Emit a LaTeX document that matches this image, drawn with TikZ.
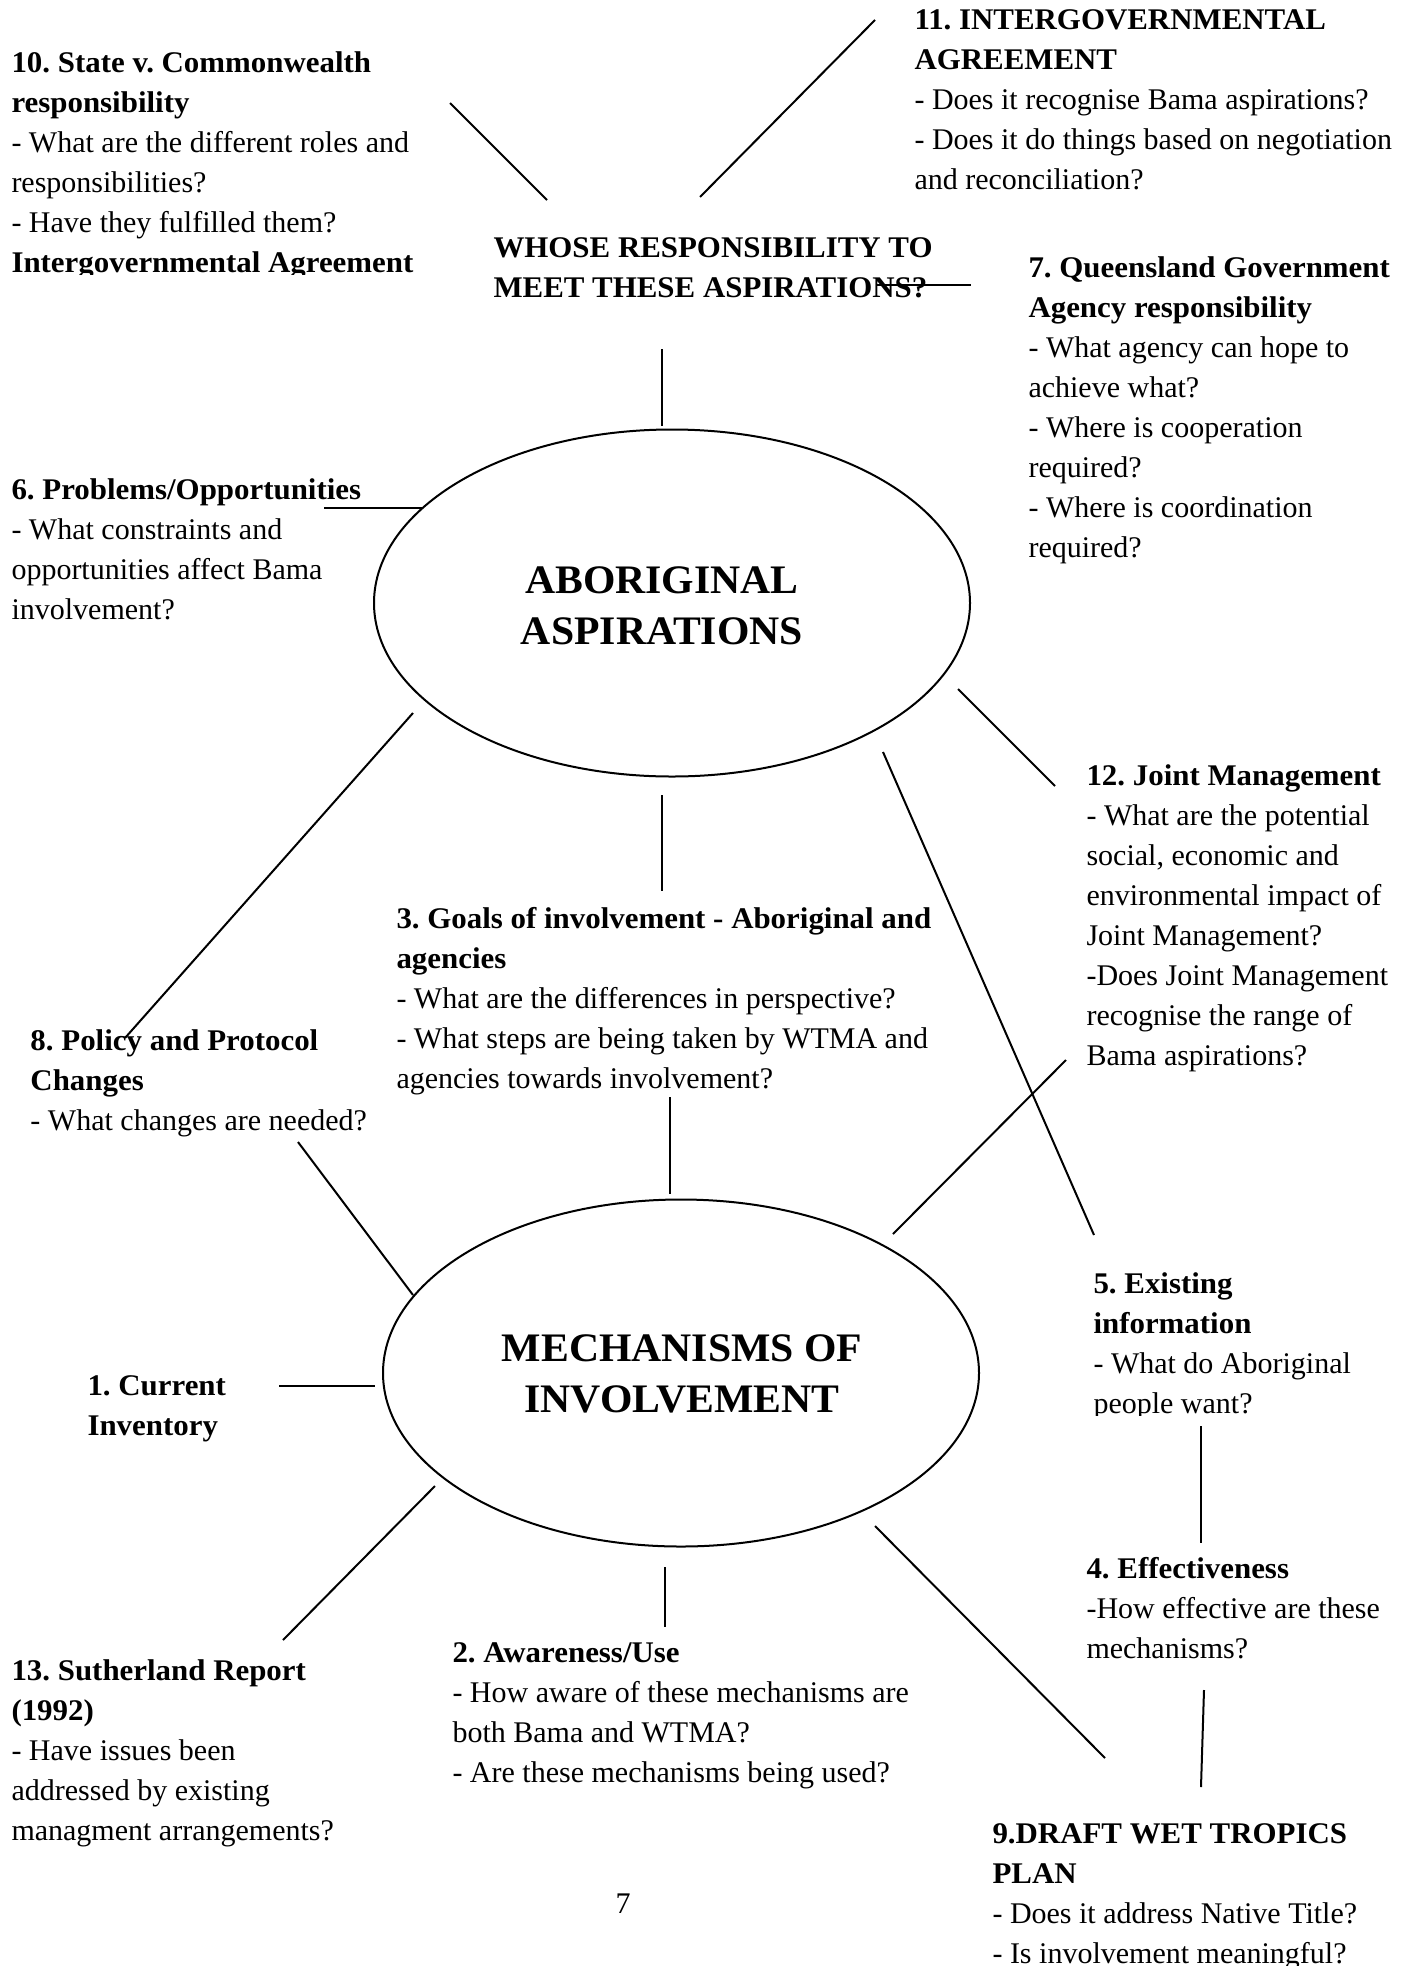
\documentclass[tikz,border=0pt]{standalone}
\usepackage{fontspec}
\setmainfont[BoldFeatures={FakeStretch=1.03}]{Liberation Serif}
\usetikzlibrary{shapes.geometric}
\frenchspacing
\begin{document}
\begin{tikzpicture}[x=0.4pt,y=-0.4pt,
  txt/.style={anchor=north west,inner sep=0pt,align=left,font=\fontsize{12}{16}\selectfont\frenchspacing},
  big/.style={anchor=north,inner sep=0pt,align=center,font=\fontsize{16.2}{20.5}\selectfont\bfseries},
  oval/.style={ellipse,draw,line width=0.8pt,inner sep=0pt,minimum width=238.4pt,minimum height=138.8pt},
  conn/.style={line width=0.8pt}]
\useasboundingbox (0,0) rectangle (1409,1966);
\clip (0,0) rectangle (1409,1966);

% ellipses
\node[oval] (abor) at (672,603) {};
\node[big] (abort) at (662,557) {\strut ABORIGINAL\\ASPIRATIONS};
\node[oval] (mech) at (681,1373) {};
\node[big] (mecht) at (682,1325) {\strut MECHANISMS OF\\INVOLVEMENT};

% text blocks
\begin{scope}
\clip (0,0) rectangle (480,274);
\node[txt] (b10) at (11,44) {\strut\textbf{10. State v. Commonwealth}\\\textbf{responsibility}\\- What are the different roles and\\responsibilities?\\- Have they fulfilled them?\\\textbf{Intergovernmental Agreement}};
\end{scope}
\node[txt] (b11) at (914,1) {\strut\textbf{11. INTERGOVERNMENTAL}\\\textbf{AGREEMENT}\\- Does it recognise Bama aspirations?\\- Does it do things based on negotiation\\and reconciliation?};
\node[txt] (whose) at (493,229) {\strut\textbf{WHOSE RESPONSIBILITY TO}\\\textbf{MEET THESE ASPIRATIONS?}};
\node[txt] (b7) at (1028,249) {\strut\textbf{7. Queensland Government}\\\textbf{Agency responsibility}\\- What agency can hope to\\achieve what?\\- Where is cooperation\\required?\\- Where is coordination\\required?};
\node[txt] (b6) at (11,471) {\strut\textbf{6. Problems/Opportunities}\\- What constraints and\\opportunities affect Bama\\involvement?};
\node[txt] (b12) at (1086,757) {\strut\textbf{12. Joint Management}\\- What are the potential\\social, economic and\\environmental impact of\\Joint Management?\\-Does Joint Management\\recognise the range of\\Bama aspirations?};
\node[txt] (b3) at (396,900) {\strut\textbf{3. Goals of involvement - Aboriginal and}\\\textbf{agencies}\\- What are the differences in perspective?\\- What steps are being taken by WTMA and\\agencies towards involvement?};
\node[txt] (b8) at (30,1022) {\strut\textbf{8. Policy and Protocol}\\\textbf{Changes}\\- What changes are needed?};
\begin{scope}
\clip (1000,1200) rectangle (1409,1415);
\node[txt] (b5) at (1093,1265) {\strut\textbf{5. Existing}\\\textbf{information}\\- What do Aboriginal\\people want?};
\end{scope}
\node[txt] (b1) at (87,1367) {\strut\textbf{1. Current}\\\textbf{Inventory}};
\node[txt] (b4) at (1086,1550) {\strut\textbf{4. Effectiveness}\\-How effective are these\\mechanisms?};
\node[txt] (b2) at (452,1634) {\strut\textbf{2. Awareness/Use}\\- How aware of these mechanisms are\\both Bama and WTMA?\\- Are these mechanisms being used?};
\node[txt] (b13) at (11,1652) {\strut\textbf{13. Sutherland Report}\\\textbf{(1992)}\\- Have issues been\\addressed by existing\\managment arrangements?};
\node[txt] (b9) at (992,1815) {\strut\textbf{9.DRAFT WET TROPICS}\\\textbf{PLAN}\\- Does it address Native Title?\\- Is involvement meaningful?};
\node[anchor=base,inner sep=0pt,font=\fontsize{12}{16}\selectfont] (pg) at (623,1913) {7};

% connector end points
\coordinate (c1a) at (450,103);  \coordinate (c1b) at (547,200);
\coordinate (c2a) at (875,20);   \coordinate (c2b) at (700,197);
\coordinate (c3a) at (877,285);  \coordinate (c3b) at (971,285);
\coordinate (c4a) at (662,349);  \coordinate (c4b) at (662,426);
\coordinate (c5a) at (324,508);  \coordinate (c5b) at (422,508);
\coordinate (c6a) at (413,713);  \coordinate (c6b) at (125,1038);
\coordinate (c7a) at (662,795);  \coordinate (c7b) at (662,891);
\coordinate (c8a) at (883,752);  \coordinate (c8b) at (1094,1235);
\coordinate (c9a) at (958,689);  \coordinate (c9b) at (1055,786);
\coordinate (c10a) at (670,1097); \coordinate (c10b) at (670,1194);
\coordinate (c11a) at (298,1142); \coordinate (c11b) at (413,1295);
\coordinate (c12a) at (893,1234); \coordinate (c12b) at (1066,1060);
\coordinate (c13a) at (279,1386); \coordinate (c13b) at (375,1386);
\coordinate (c14a) at (435,1486); \coordinate (c14b) at (283,1640);
\coordinate (c15a) at (665,1567); \coordinate (c15b) at (665,1627);
\coordinate (c16a) at (875,1526); \coordinate (c16b) at (1105,1758);
\coordinate (c17a) at (1201,1426); \coordinate (c17b) at (1201,1543);
\coordinate (c18a) at (1204,1690); \coordinate (c18b) at (1201,1787);

\foreach \i in {1,...,18} {\draw[conn] (c\i a) -- (c\i b);}
\end{tikzpicture}
\end{document}
